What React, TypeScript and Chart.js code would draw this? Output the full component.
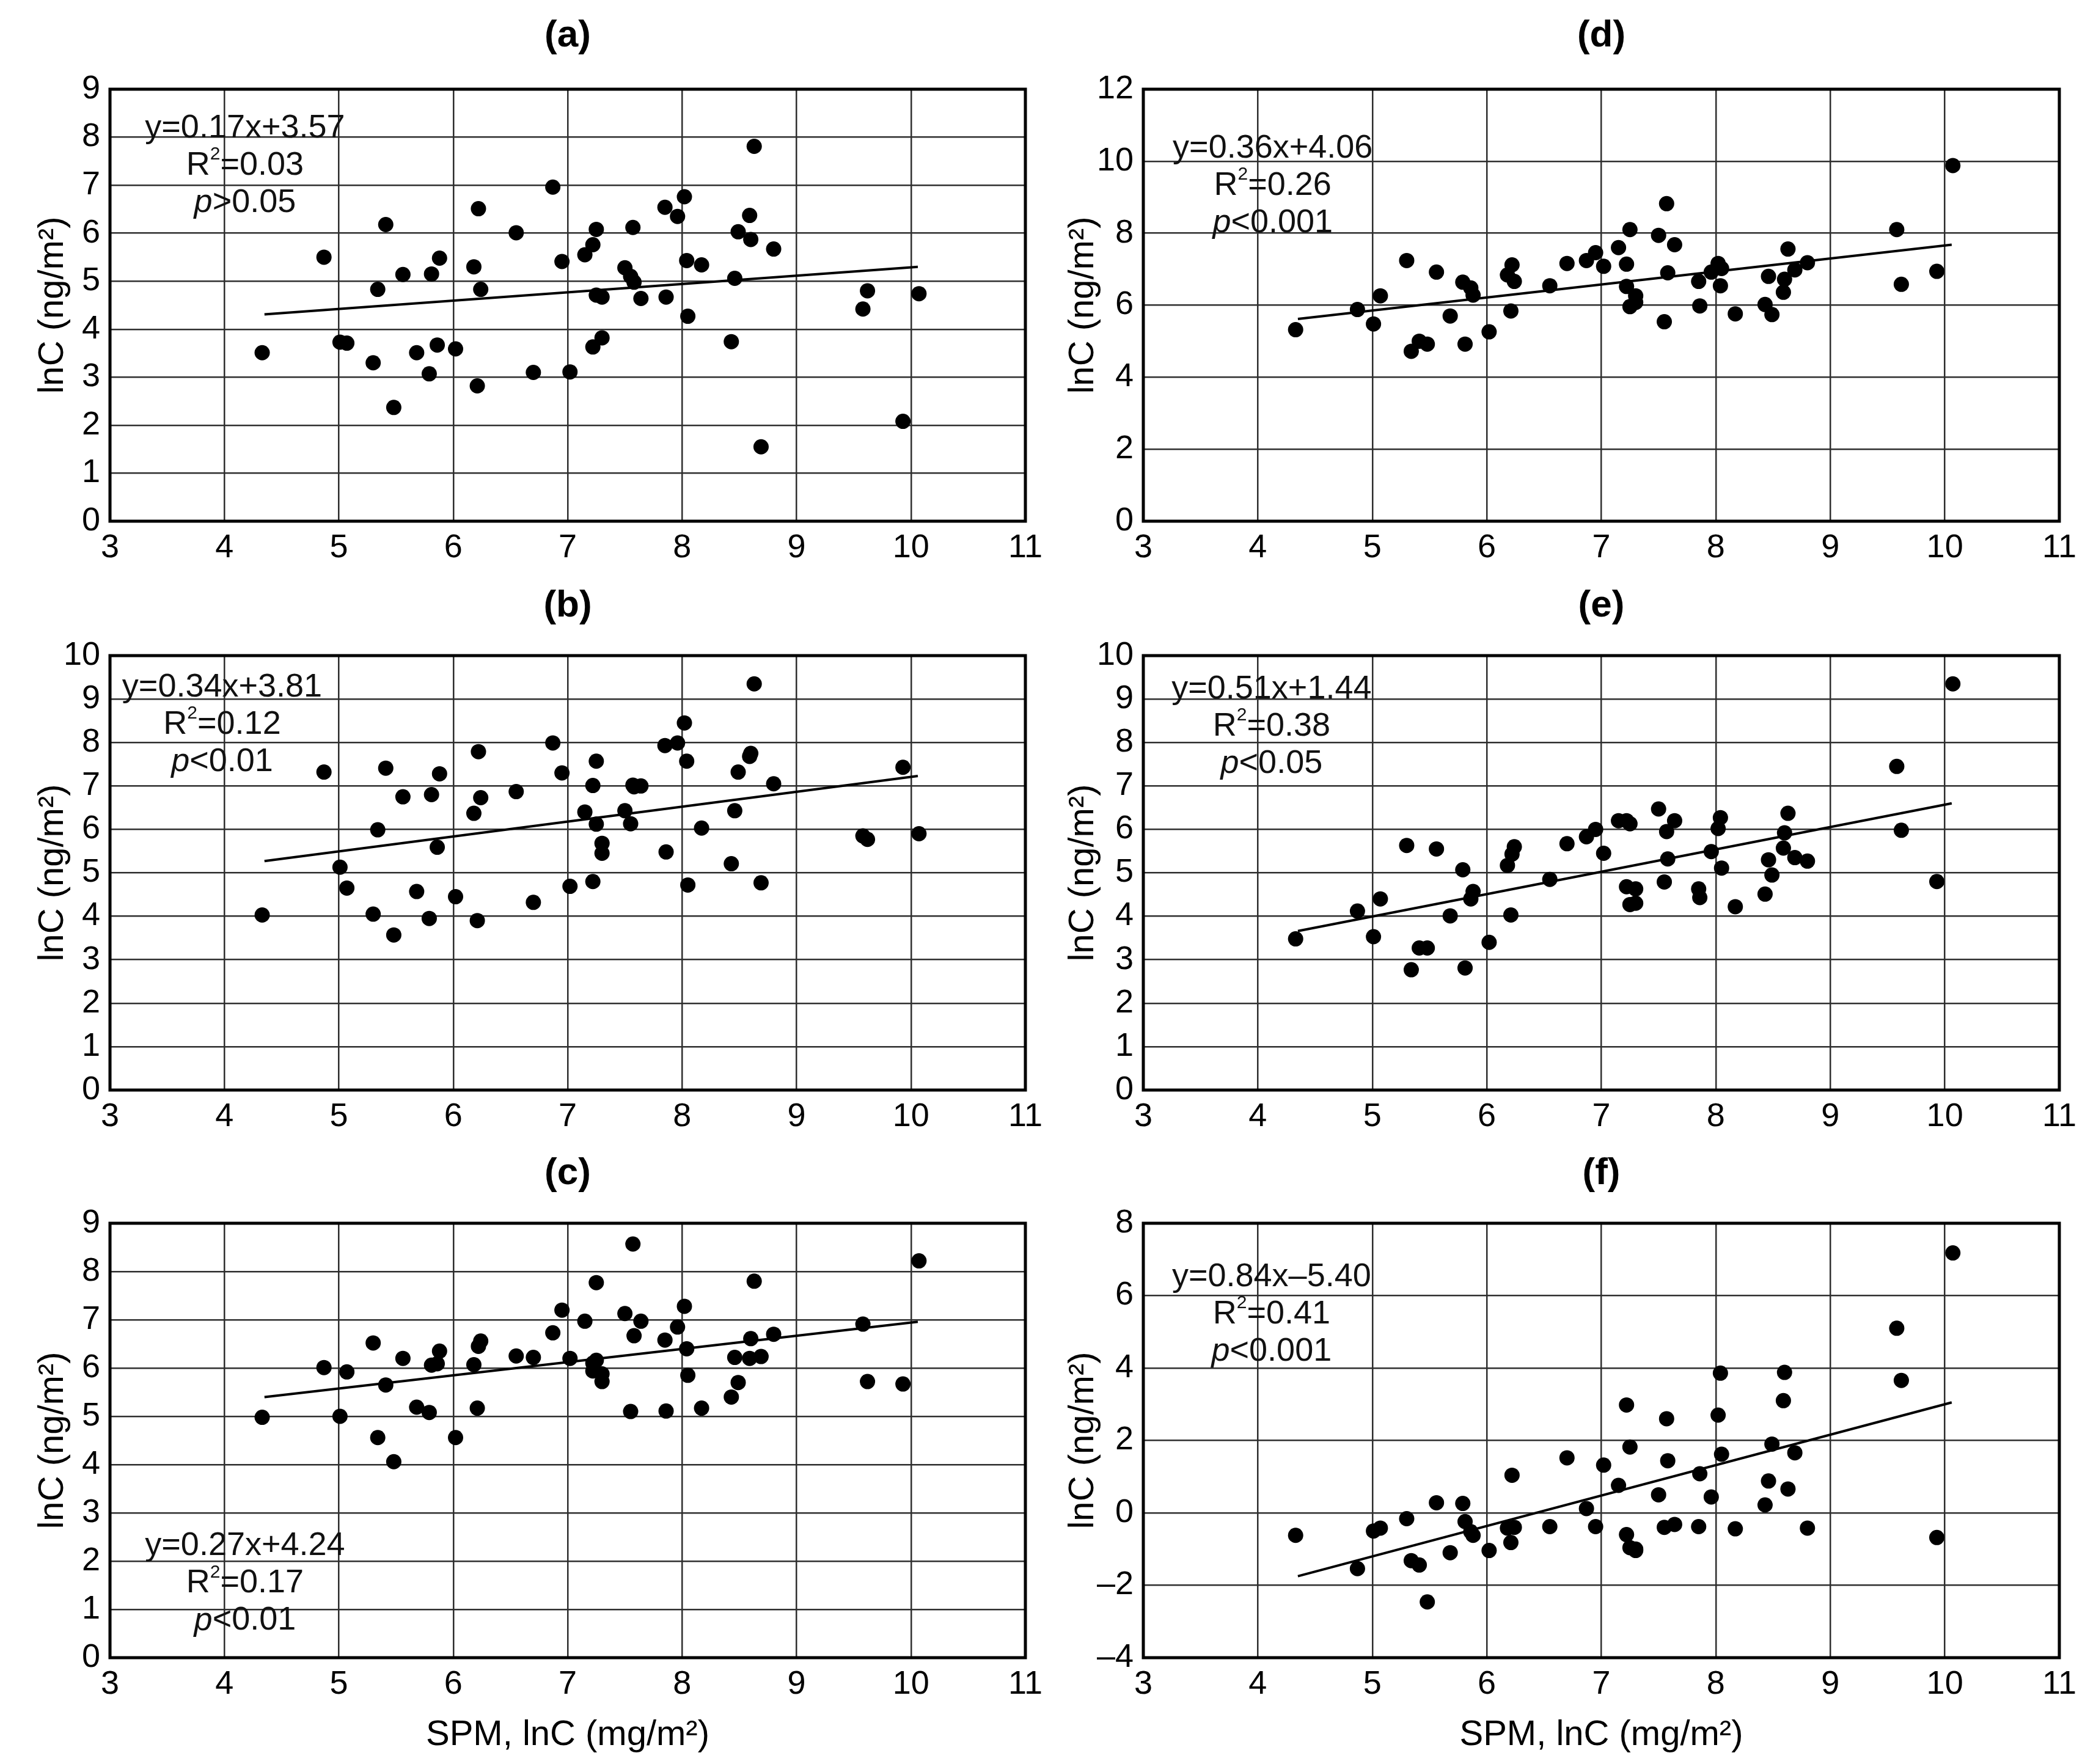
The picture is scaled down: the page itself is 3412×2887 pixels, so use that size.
import React, { useEffect, useRef } from "react";
import { Chart, registerables } from "chart.js";

Chart.register(...registerables);

const FONT = "'Liberation Sans', Arial, Helvetica, sans-serif";

// Shared SPM values (x, lnC mg/m2)
const spmX = [4.33, 4.87, 5.01, 5.07, 5.30, 5.34, 5.41, 5.48, 5.56, 5.68, 5.79, 5.81, 5.86, 5.88, 6.02, 6.18, 6.22, 6.24, 6.21, 6.55, 6.70, 6.87, 6.95, 7.02, 7.15, 7.22, 7.22, 7.25, 7.25, 7.30, 7.30, 7.50, 7.55, 7.57, 7.58, 7.64, 7.85, 7.86, 7.96, 8.02, 8.04, 8.05, 8.17, 8.43, 8.46, 8.49, 8.59, 8.60, 8.63, 8.69, 8.80, 9.58, 9.62, 9.93, 10.07];

// lnC (ng/m2) per panel
const lnC_a = [3.51, 5.50, 3.73, 3.71, 3.30, 4.83, 6.18, 2.37, 5.14, 3.51, 3.07, 5.15, 3.67, 5.48, 3.59, 5.30, 6.51, 4.83, 2.82, 6.01, 3.10, 6.96, 5.41, 3.11, 5.55, 5.76, 3.63, 6.08, 4.71, 4.67, 3.82, 5.28, 5.10, 6.12, 4.98, 4.64, 6.54, 4.67, 6.35, 6.76, 5.43, 4.27, 5.34, 3.74, 5.06, 6.03, 6.37, 5.87, 7.81, 1.55, 5.67, 4.42, 4.80, 2.08, 4.74];
const lnC_b = [4.03, 7.32, 5.13, 4.65, 4.05, 5.99, 7.41, 3.57, 6.75, 4.57, 3.95, 6.80, 5.59, 7.28, 4.45, 6.37, 7.79, 6.73, 3.90, 6.87, 4.32, 7.99, 7.30, 4.69, 6.40, 7.01, 4.80, 7.57, 6.12, 5.68, 5.45, 6.43, 6.13, 7.02, 6.98, 7.00, 7.93, 5.48, 7.99, 8.45, 7.57, 4.72, 6.03, 5.21, 6.43, 7.32, 7.68, 7.75, 9.35, 4.77, 7.05, 5.85, 5.77, 7.43, 5.90];
const lnC_c = [4.98, 6.01, 5.00, 5.92, 6.52, 4.56, 5.65, 4.06, 6.20, 5.19, 5.08, 6.06, 6.09, 6.35, 4.56, 6.07, 6.45, 6.56, 5.17, 6.25, 6.22, 6.73, 7.20, 6.20, 6.97, 6.10, 5.94, 7.77, 6.16, 5.88, 5.72, 7.13, 5.10, 8.57, 6.67, 6.97, 6.58, 5.11, 6.85, 7.28, 6.40, 5.85, 5.17, 5.40, 6.22, 5.70, 6.20, 6.61, 7.80, 6.24, 6.70, 6.91, 5.72, 5.67, 8.22];
const lnC_d = [5.32, 5.88, 5.48, 6.26, 7.24, 4.72, 5.00, 4.92, 6.92, 5.70, 6.64, 4.92, 6.48, 6.28, 5.26, 6.84, 7.12, 6.66, 5.84, 6.54, 7.16, 7.24, 7.46, 7.08, 7.60, 7.14, 6.52, 8.10, 5.96, 6.26, 6.08, 7.94, 5.54, 8.82, 6.90, 7.68, 6.66, 5.98, 6.92, 7.16, 6.54, 7.02, 5.76, 6.02, 6.80, 5.74, 6.36, 6.72, 7.56, 6.98, 7.18, 8.10, 6.58, 6.94, 9.88];
const lnC_e = [3.48, 4.12, 3.53, 4.40, 5.63, 2.77, 3.27, 3.27, 5.55, 4.01, 5.07, 2.81, 4.40, 4.57, 3.40, 5.17, 5.43, 5.60, 4.03, 4.85, 5.67, 5.83, 6.00, 5.45, 6.20, 6.20, 4.68, 6.13, 4.27, 4.63, 4.30, 6.47, 4.79, 5.95, 5.32, 6.20, 4.63, 4.43, 5.49, 6.02, 6.27, 5.11, 4.22, 4.51, 5.30, 4.95, 5.57, 5.92, 6.37, 5.35, 5.27, 7.45, 5.98, 4.80, 9.35];
const lnC_f = [-0.62, -1.54, -0.50, -0.42, -0.16, -1.32, -1.44, -2.46, 0.28, -1.10, 0.26, -0.24, -0.52, -0.62, -1.04, -0.42, 1.04, -0.40, -0.82, -0.38, 1.52, 0.12, -0.38, 1.32, 0.76, 2.98, -0.60, 1.82, -0.96, -1.04, -1.00, 0.50, -0.40, 2.60, 1.44, -0.32, -0.38, 1.08, 0.44, 2.70, 3.86, 1.62, -0.44, 0.22, 0.88, 1.90, 3.10, 3.88, 0.66, 1.66, -0.42, 5.10, 3.66, -0.68, 7.18];

// Regression line end points
const trendX = [4.35, 10.06];
const trend_a = [4.31, 5.30];
const trend_b = [5.27, 7.23];
const trend_c = [5.40, 6.96];
const trend_d = [5.62, 7.68];
const trend_e = [3.66, 6.60];
const trend_f = [-1.75, 3.05];

// Panel labels and statistics text
const panelTitles = ["(a)", "(b)", "(c)", "(d)", "(e)", "(f)"];
const equations = ["y=0.17x+3.57", "y=0.34x+3.81", "y=0.27x+4.24", "y=0.36x+4.06", "y=0.51x+1.44", "y=0.84x\u20135.40"];
const r2Values = ["=0.03", "=0.12", "=0.17", "=0.26", "=0.38", "=0.41"];
const pValues = [">0.05", "<0.01", "<0.01", "<0.001", "<0.05", "<0.001"];

// Axis ranges
const xTicksRange = [3, 11, 1];
const yRanges = [
  [0, 9, 1],
  [0, 10, 1],
  [0, 9, 1],
  [0, 12, 2],
  [0, 10, 1],
  [-4, 8, 2],
];

const yTitle = "lnC (ng/m\u00b2)";
const xTitle = "SPM, lnC (mg/m\u00b2)";

const seriesList = [lnC_a, lnC_b, lnC_c, lnC_d, lnC_e, lnC_f];
const trendList = [trend_a, trend_b, trend_c, trend_d, trend_e, trend_f];

// Layout (pixels)
const colLayout = [
  { left: 0, w: 1723, yAxisW: 180, padRight: 45, yTitlePad: 52 },
  { left: 1700, w: 1712, yAxisW: 171, padRight: 42, yTitlePad: 38 },
];
const rowLayout = [
  { top: 0, h: 933, tTop: 22, tBottom: 49.6, xAxisH: 80, showXTitle: false },
  { top: 933, h: 931, tTop: 22, tBottom: 43.6, xAxisH: 80, showXTitle: false },
  { top: 1864, h: 1023, tTop: 20, tBottom: 43.6, xAxisH: 174, showXTitle: true },
];
// stats text anchor (data coords of first line centre) per panel
const statAnchors = [
  [4.18, 8.19],
  [3.98, 9.27],
  [4.18, 2.31],
  [4.13, 10.36],
  [4.12, 9.23],
  [4.12, 6.52],
];

const framePlugin = {
  id: "frameStats",
  beforeDatasetsDraw(chart: any) {
    const { ctx, chartArea } = chart;
    ctx.save();
    ctx.strokeStyle = "#000";
    ctx.lineWidth = 5;
    ctx.strokeRect(chartArea.left, chartArea.top, chartArea.right - chartArea.left, chartArea.bottom - chartArea.top);
    ctx.restore();
  },
  afterDatasetsDraw(chart: any, _args: any, opts: any) {
    if (!opts || !opts.eq) return;
    const { ctx } = chart;
    const xs = chart.scales.x;
    const ys = chart.scales.y;
    const cx = xs.getPixelForValue(opts.ax);
    const cy = ys.getPixelForValue(opts.ay);
    const size = 54;
    const spacing = 61;
    const f = `${size}px ${FONT}`;
    const small = `${Math.round(size * 0.55)}px ${FONT}`;
    const it = `italic ${size}px ${FONT}`;
    ctx.save();
    ctx.fillStyle = "#111";
    ctx.textBaseline = "middle";
    ctx.font = f;
    ctx.textAlign = "center";
    ctx.fillText(opts.eq, cx, cy);
    // R^2 line
    const y2 = cy + spacing;
    ctx.textAlign = "left";
    ctx.font = f;
    const wR = ctx.measureText("R").width;
    const wRest = ctx.measureText(opts.r2).width;
    ctx.font = small;
    const wS = ctx.measureText("2").width;
    let x = cx - (wR + wS + wRest) / 2;
    ctx.font = f;
    ctx.fillText("R", x, y2);
    x += wR;
    ctx.font = small;
    ctx.fillText("2", x, y2 - size * 0.33);
    x += wS;
    ctx.font = f;
    ctx.fillText(opts.r2, x, y2);
    // p line
    const y3 = cy + spacing * 2;
    ctx.font = it;
    const wP = ctx.measureText("p").width;
    ctx.font = f;
    const wPr = ctx.measureText(opts.p).width;
    let x3 = cx - (wP + wPr) / 2;
    ctx.font = it;
    ctx.fillText("p", x3, y3);
    x3 += wP;
    ctx.font = f;
    ctx.fillText(opts.p, x3, y3);
    ctx.restore();
  },
};

function PanelChart({ idx }: { idx: number }) {
  const ref = useRef<HTMLCanvasElement>(null);
  const col = idx < 3 ? colLayout[0] : colLayout[1];
  const row = rowLayout[idx % 3];
  const w = col.w;
  const h = row.h;

  useEffect(() => {
    const canvas = ref.current;
    if (!canvas) return;
    const ys = seriesList[idx];
    const pts = spmX.map((xv, i) => ({ x: xv, y: ys[i] }));
    const tr = trendList[idx];
    const linePts = trendX.map((xv, i) => ({ x: xv, y: tr[i] }));
    const [ymin, ymax, ystep] = yRanges[idx];
    const gridColor = "#2e2e2e";
    const chart = new Chart(canvas, {
      type: "scatter",
      data: {
        datasets: [
          {
            data: linePts,
            showLine: true,
            borderColor: "#000",
            borderWidth: 4,
            pointRadius: 0,
            fill: false,
          } as any,
          {
            data: pts,
            backgroundColor: "#000",
            borderColor: "#000",
            borderWidth: 0,
            pointRadius: 12.5,
            pointHoverRadius: 12.5,
          },
        ],
      },
      options: {
        animation: false,
        responsive: false,
        devicePixelRatio: 1,
        layout: { padding: { left: 0, right: col.padRight, top: 0, bottom: 0 } },
        plugins: {
          legend: { display: false },
          tooltip: { enabled: false },
          title: {
            display: true,
            fullSize: false,
            text: panelTitles[idx],
            color: "#000",
            font: { family: FONT, size: 62, weight: "bold" },
            padding: { top: row.tTop, bottom: row.tBottom },
          },
          frameStats: {
            eq: equations[idx],
            r2: r2Values[idx],
            p: pValues[idx],
            ax: statAnchors[idx][0],
            ay: statAnchors[idx][1],
          },
        } as any,
        scales: {
          x: {
            type: "linear",
            min: xTicksRange[0],
            max: xTicksRange[1],
            ticks: {
              stepSize: xTicksRange[2],
              color: "#000",
              font: { family: FONT, size: 54 },
              padding: 12,
              maxRotation: 0,
              autoSkip: false,
            },
            grid: { color: gridColor, lineWidth: 2.5, drawTicks: false },
            border: { display: false },
            title: {
              display: row.showXTitle,
              text: xTitle,
              color: "#000",
              font: { family: FONT, size: 58 },
              padding: { top: 0, bottom: 12 },
            },
            afterFit: (s: any) => {
              s.height = row.xAxisH;
            },
          },
          y: {
            type: "linear",
            min: ymin,
            max: ymax,
            ticks: {
              stepSize: ystep,
              color: "#000",
              font: { family: FONT, size: 54 },
              padding: 16,
              autoSkip: false,
              callback: (v: any) => String(v).replace("-", "\u2013"),
            },
            grid: { color: gridColor, lineWidth: 2.5, drawTicks: false },
            border: { display: false },
            title: {
              display: true,
              text: yTitle,
              color: "#000",
              font: { family: FONT, size: 58 },
              padding: { top: col.yTitlePad, bottom: 0 },
            },
            afterFit: (s: any) => {
              s.width = col.yAxisW;
            },
          },
        },
      },
      plugins: [framePlugin],
    });
    return () => chart.destroy();
  }, [idx]);

  return (
    <div style={{ position: "absolute", left: col.left, top: row.top, width: w, height: h }}>
      <canvas ref={ref} width={w} height={h} style={{ width: w, height: h, display: "block" }} />
    </div>
  );
}

export default function App() {
  return (
    <div
      style={{
        position: "absolute",
        left: 0,
        top: 0,
        width: 3412,
        height: 2887,
        background: "#fff",
        overflow: "hidden",
      }}
    >
      {[0, 1, 2, 3, 4, 5].map((i) => (
        <PanelChart key={i} idx={i} />
      ))}
    </div>
  );
}
